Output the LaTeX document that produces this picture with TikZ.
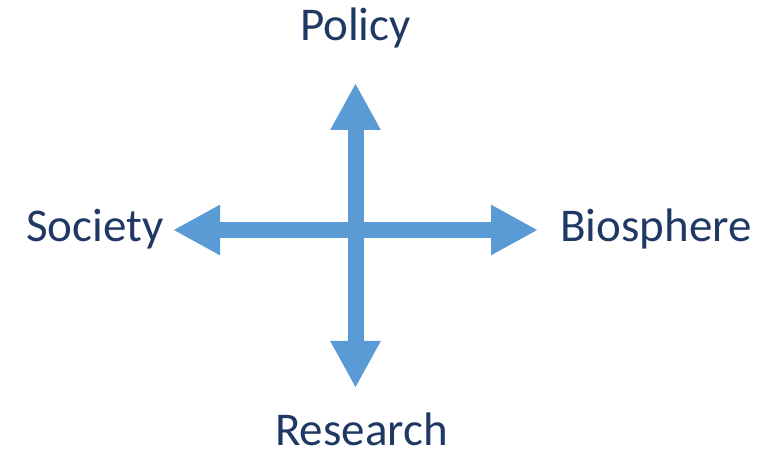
\documentclass[tikz,border=0pt]{standalone}
\usepackage{fontspec}
\setmainfont{Carlito}
\usetikzlibrary{arrows.meta}
\definecolor{arrowblue}{HTML}{5B9BD5}
\definecolor{textnavy}{HTML}{1F3864}
\begin{document}
\begin{tikzpicture}[x=1pt,y=1pt,
  lbl/.style={anchor=base,inner sep=0pt,text=textnavy,font=\fontsize{47}{52}\selectfont},
  bigarrow/.style={draw=arrowblue,line width=16pt,{Triangle[length=47pt,width=47pt]}-{Triangle[length=47pt,width=47pt]}}]
\useasboundingbox (0,0) rectangle (772,453);
\node[lbl] (policy) at (355.5,412) {Policy};
\node[lbl] (society) at (95,211) {Society};
\node[lbl] (bio) at (656,211) {Biosphere};
\node[lbl] (research) at (361.5,7) {Research};
\coordinate (L) at (173,223);
\coordinate (R) at (538,223);
\coordinate (T) at (355.5,370);
\coordinate (B) at (355.5,65);
\draw[bigarrow] (L) -- (R);
\draw[bigarrow] (T) -- (B);
\end{tikzpicture}
\end{document}
